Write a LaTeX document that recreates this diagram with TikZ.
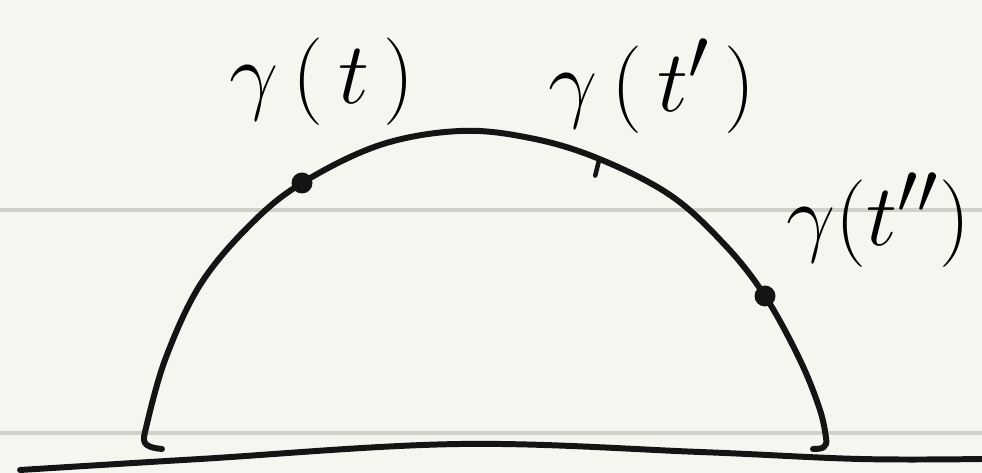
\documentclass[tikz,border=0pt]{standalone}
\usepackage{amsmath, amssymb}
\usepackage{graphicx}
\usepackage{tikz}
\definecolor{paper}{HTML}{F5F6F0}
\definecolor{rule}{HTML}{CFD0C8}
\newcommand{\hand}[1]{\scalebox{2}{\Huge$#1$}}

\begin{document}
\begin{tikzpicture}[
    x=0.2mm, y=-0.2mm,
    ink/.style={line width=3.4pt, line cap=round, line join=round, black!92},
    ruled/.style={line width=2.8pt, rule},
    pt/.style={circle, fill=black!92, inner sep=0pt, minimum size=4.2mm},
    lbl/.style={inner sep=0pt}
]
    \fill[paper] (0,0) rectangle (982,473);
    \useasboundingbox (0,0) rectangle (982,473);

    % ruled paper lines
    \draw[ruled] (0,210) -- (982,210);
    \draw[ruled] (0,433) -- (982,433);

    % the arc
    \draw[ink] (162,449) .. controls (140,447) and (143,440) .. (146,428)
        plot[smooth, tension=0.6] coordinates {(146,428) (165,360) (200,285) (250,225) (302,183)
            (380,145) (460,131) (530,138) (597,158) (670,195) (725,245) (765,296)
            (800,360) (820,410) (826,438)}
        .. controls (828,448) and (822,449) .. (813,449);

    % ground
    \draw[ink] plot[smooth, tension=0.6] coordinates {(20,470) (200,459) (460,444) (700,452) (860,459) (982,459)};

    \node[pt] (p1) at (302,183) {};
    \node[pt] (p3) at (765,296) {};
    \coordinate (p2) at (597,158);
    \draw[ink, line width=2.6pt] ([xshift=-1pt, yshift=-10pt]p2) -- ([xshift=1pt, yshift=-2pt]p2);

    \node[lbl] (l1) at (322,82) {\hand{\gamma\,(\,t\,)}};
    \node[lbl] (l2) at (652,86) {\hand{\gamma\,(\,t'\,)}};
    \node[lbl, anchor=west] (l3) at (786,220) {\hand{\gamma(t'')}};
\end{tikzpicture}
\end{document}
